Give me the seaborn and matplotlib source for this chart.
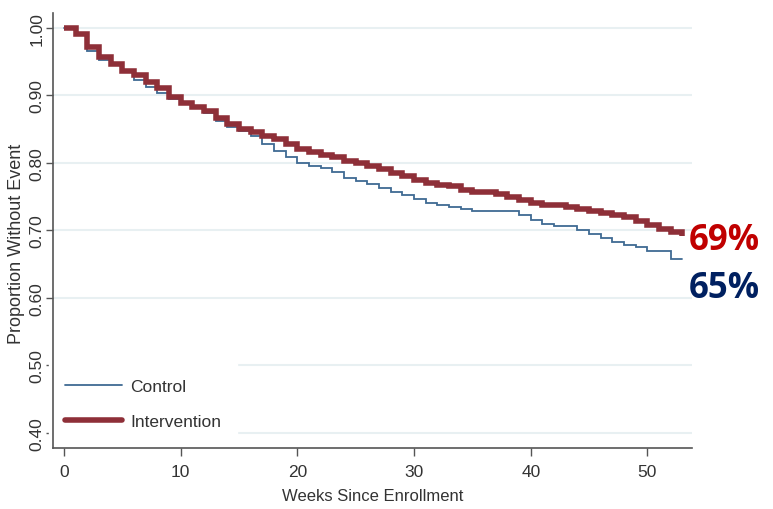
import numpy as np
import pandas as pd
import seaborn as sns
import matplotlib.pyplot as plt
from matplotlib.lines import Line2D

# Weeks since enrollment
weeks = list(range(0, 54))

# Kaplan-Meier estimates, one value per week
control = [1.000, 0.990, 0.965, 0.952, 0.945, 0.935, 0.922, 0.912, 0.903, 0.895,
           0.888, 0.882, 0.873, 0.862, 0.853, 0.847, 0.840, 0.828, 0.818, 0.808,
           0.800, 0.795, 0.792, 0.786, 0.778, 0.773, 0.768, 0.763, 0.757, 0.752,
           0.746, 0.741, 0.738, 0.735, 0.732, 0.728, 0.728, 0.728, 0.728, 0.722,
           0.715, 0.710, 0.706, 0.706, 0.700, 0.695, 0.688, 0.683, 0.678, 0.675,
           0.669, 0.669, 0.658, 0.658]
intervention = [1.000, 0.990, 0.972, 0.957, 0.946, 0.936, 0.930, 0.920, 0.910, 0.898,
                0.888, 0.883, 0.876, 0.866, 0.857, 0.850, 0.845, 0.840, 0.835, 0.828,
                0.821, 0.816, 0.812, 0.808, 0.803, 0.799, 0.795, 0.790, 0.785, 0.780,
                0.775, 0.770, 0.767, 0.765, 0.760, 0.756, 0.756, 0.754, 0.750, 0.745,
                0.741, 0.738, 0.738, 0.735, 0.732, 0.728, 0.725, 0.723, 0.720, 0.714,
                0.708, 0.702, 0.697, 0.692]

yticks = [0.4, 0.5, 0.6, 0.7, 0.8, 0.9, 1.0]
xticks = [0, 10, 20, 30, 40, 50]
end_labels = ["69%", "65%"]

df_c = pd.DataFrame({"week": weeks, "surv": control})
df_i = pd.DataFrame({"week": weeks, "surv": intervention})

sns.set_style("white")
plt.rcParams["font.family"] = ["Liberation Sans", "DejaVu Sans"]

fig = plt.figure(figsize=(7.73, 5.10), dpi=100)
ax = fig.add_axes([0.069, 0.12, 0.826, 0.853])

c_blue = "#3f6a93"
c_red = "#8e2f38"

# light horizontal gridlines, kept under the legend box
for yv in yticks:
    ax.axhline(yv, color="#e8f0f2", linewidth=1.5, zorder=0.5)

sns.lineplot(data=df_c, x="week", y="surv", ax=ax, color=c_blue, linewidth=1.3,
             drawstyle="steps-post", zorder=3, solid_joinstyle="miter")
sns.lineplot(data=df_i, x="week", y="surv", ax=ax, color=c_red, linewidth=4.0,
             drawstyle="steps-post", zorder=4, solid_capstyle="butt",
             solid_joinstyle="miter")

ax.set_xlim(-0.9, 53.8)
ax.set_ylim(0.378, 1.022)
ax.set_xticks(xticks)
ax.set_yticks(yticks)
ax.set_yticklabels([f"{v:.2f}" for v in yticks],
                   rotation=90, va="center", fontsize=12.5, color="#333333")
ax.set_xticklabels([str(v) for v in xticks], fontsize=12.5, color="#333333")
ax.grid(False)

for s in ["top", "right"]:
    ax.spines[s].set_visible(False)
for s in ["left", "bottom"]:
    ax.spines[s].set_color("#555555")
    ax.spines[s].set_linewidth(1.2)
ax.tick_params(axis="x", length=6, width=1, color="#555555", direction="out",
               bottom=True, pad=6)
ax.tick_params(axis="y", length=5, width=1, color="#555555", direction="out",
               left=True, pad=1.5)

ax.set_xlabel("Weeks Since Enrollment", fontsize=12, color="#333333", labelpad=6)
ax.set_ylabel("Proportion Without Event", fontsize=13, color="#333333")
ax.yaxis.set_label_coords(-0.044, 0.47)

handles = [Line2D([], [], color=c_blue, lw=1.3),
           Line2D([], [], color=c_red, lw=4.0)]
leg = ax.legend(handles, ["Control", "Intervention"], loc="lower left",
                bbox_to_anchor=(-0.02, -0.013), frameon=True, fancybox=False,
                edgecolor="white", framealpha=1, handlelength=3.3,
                handletextpad=0.45, labelspacing=1.15, borderpad=0.9,
                prop={"size": 12.5})
leg.set_zorder(1)
for t in leg.get_texts():
    t.set_color("#333333")

# end-of-follow-up percentages
fig.text(0.891, 0.528, end_labels[0], color="#c00000", fontsize=25,
         fontweight="bold", fontfamily="Open Sans", va="center")
fig.text(0.891, 0.433, end_labels[1], color="#002060", fontsize=25,
         fontweight="bold", fontfamily="Open Sans", va="center")

fig.savefig("out.png", dpi=100)
